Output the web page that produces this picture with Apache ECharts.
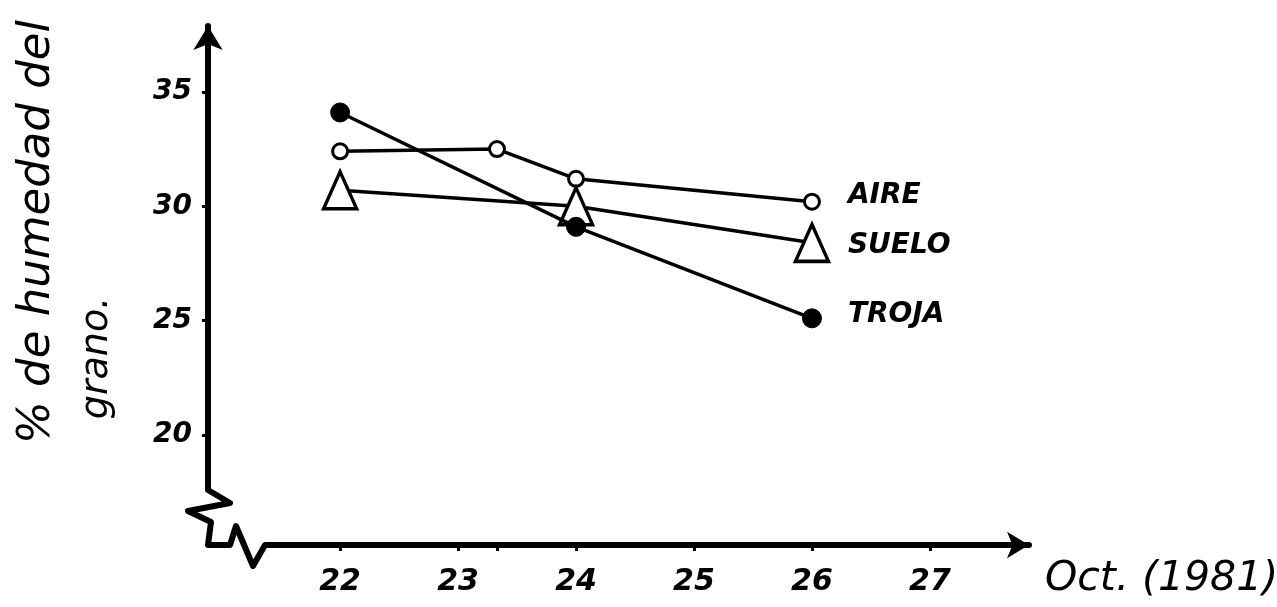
<!DOCTYPE html>
<html>
<head>
<meta charset="utf-8">
<title>% de humedad del grano</title>
<script src="https://cdn.jsdelivr.net/npm/echarts@6/dist/echarts.min.js"></script>
<style>
  html, body { margin: 0; padding: 0; background: #ffffff; }
  #chart { width: 1277px; height: 607px; }
</style>
</head>
<body>
<div id="chart"></div>
<script>
// Days of October 1981 shown on the horizontal axis
const dayLabels = [22, 23, 24, 25, 26, 27];
const dayTicks = [22, 23, 23.33, 24, 25, 26, 27];
// Moisture ticks on the vertical axis
const moistureLabels = [20, 25, 30, 35];

// Grain moisture (%) per drying method
const aireDays = [22, 23.33, 24, 26];
const aireValues = [32.4, 32.5, 31.2, 30.2];
const sueloDays = [22, 24, 26];
const sueloValues = [30.7, 30.0, 28.4];
const trojaDays = [22, 24, 26];
const trojaValues = [34.1, 29.1, 25.1];

const pairs = (xs, ys) => xs.map((x, i) => [x, ys[i]]);

const FONT = '"DejaVu Sans", sans-serif';
const INK = '#000000';

// Plot frame
const gridLeft = 208, gridTop = 26, gridRight = 248, gridBottom = 62;
const originX = gridLeft, originY = 607 - gridBottom;

const chart = echarts.init(document.getElementById('chart'), null, { renderer: 'canvas' });

function endLabel(dy) {
  return {
    show: true,
    formatter: '{a}',
    distance: 36,
    offset: [0, dy],
    color: INK,
    fontFamily: FONT,
    fontStyle: 'italic',
    fontWeight: 'bold',
    fontSize: 28
  };
}

const option = {
  backgroundColor: '#ffffff',
  animation: false,
  grid: {
    left: gridLeft, top: gridTop, right: gridRight, bottom: gridBottom,
    containLabel: false,
    outerBoundsMode: 'none'
  },
  xAxis: {
    type: 'value',
    min: 20.88,
    max: 27.84,
    name: 'Oct. (1981)',
    nameLocation: 'end',
    nameGap: 16,
    nameTextStyle: {
      color: INK, fontFamily: FONT, fontStyle: 'italic', fontSize: 41,
      align: 'left', verticalAlign: 'top', padding: [14, 0, 0, 0]
    },
    splitLine: { show: false },
    axisLine: {
      onZero: false,
      symbol: ['none', 'arrow'],
      symbolSize: [20, 22],
      lineStyle: { color: INK, width: 6 }
    },
    axisTick: {
      show: true, inside: false, length: 6,
      customValues: dayTicks,
      lineStyle: { color: INK, width: 3 }
    },
    axisLabel: {
      customValues: dayLabels,
      margin: 22,
      color: INK, fontFamily: FONT, fontStyle: 'italic', fontWeight: 'bold', fontSize: 30,
      formatter: v => String(Math.round(v))
    }
  },
  yAxis: {
    type: 'value',
    min: 15.19,
    max: 37.88,
    splitLine: { show: false },
    axisLine: {
      onZero: false,
      symbol: ['none', 'arrow'],
      symbolSize: [22, 24],
      lineStyle: { color: INK, width: 6 }
    },
    axisTick: {
      show: true, inside: false, length: 6,
      customValues: moistureLabels,
      lineStyle: { color: INK, width: 3 }
    },
    axisLabel: {
      customValues: moistureLabels,
      margin: 16,
      color: INK, fontFamily: FONT, fontStyle: 'italic', fontWeight: 'bold', fontSize: 28,
      formatter: v => String(Math.round(v))
    }
  },
  series: [
    {
      name: 'AIRE',
      type: 'line',
      data: pairs(aireDays, aireValues),
      symbol: 'circle',
      symbolSize: 15,
      showAllSymbol: true,
      itemStyle: { color: '#ffffff', borderColor: INK, borderWidth: 3 },
      lineStyle: { color: INK, width: 3.5 },
      endLabel: endLabel(-6),
      z: 3
    },
    {
      name: 'SUELO',
      type: 'line',
      data: pairs(sueloDays, sueloValues),
      symbol: 'triangle',
      symbolSize: [33, 37],
      showAllSymbol: true,
      itemStyle: { color: '#ffffff', borderColor: INK, borderWidth: 3.5 },
      lineStyle: { color: INK, width: 3.5 },
      endLabel: endLabel(3),
      z: 4
    },
    {
      name: 'TROJA',
      type: 'line',
      data: pairs(trojaDays, trojaValues),
      symbol: 'circle',
      symbolSize: 19,
      showAllSymbol: true,
      itemStyle: { color: INK, borderColor: INK, borderWidth: 1 },
      lineStyle: { color: INK, width: 3.5 },
      endLabel: endLabel(-4),
      z: 5
    }
  ],
  graphic: [
    // vertical axis title, two rotated lines read bottom to top
    {
      type: 'text',
      x: 37, y: 232,
      rotation: Math.PI / 2,
      style: {
        text: '% de humedad del',
        fill: INK, font: 'italic 45px ' + FONT,
        align: 'center', verticalAlign: 'middle'
      }
    },
    {
      type: 'text',
      x: 97, y: 358,
      rotation: Math.PI / 2,
      style: {
        text: 'grano.',
        fill: INK, font: 'italic 38px ' + FONT,
        align: 'center', verticalAlign: 'middle'
      }
    },
    // axis break at the corner of the frame
    {
      type: 'rect',
      shape: { x: originX - 24, y: originY - 60, width: 94, height: 84 },
      style: { fill: '#ffffff' },
      z: 50
    },
    {
      type: 'polyline',
      shape: {
        points: [
          [originX, originY - 62],
          [originX, originY - 55],
          [originX + 22, originY - 42],
          [originX - 20, originY - 34],
          [originX + 3, originY - 23],
          [originX, originY],
          [originX + 22, originY],
          [originX + 28, originY - 19],
          [originX + 45, originY + 21],
          [originX + 57, originY],
          [originX + 72, originY]
        ]
      },
      style: { stroke: INK, lineWidth: 6, fill: null, lineJoin: 'round', lineCap: 'round' },
      z: 51
    }
  ]
};

chart.setOption(option);
</script>
</body>
</html>
